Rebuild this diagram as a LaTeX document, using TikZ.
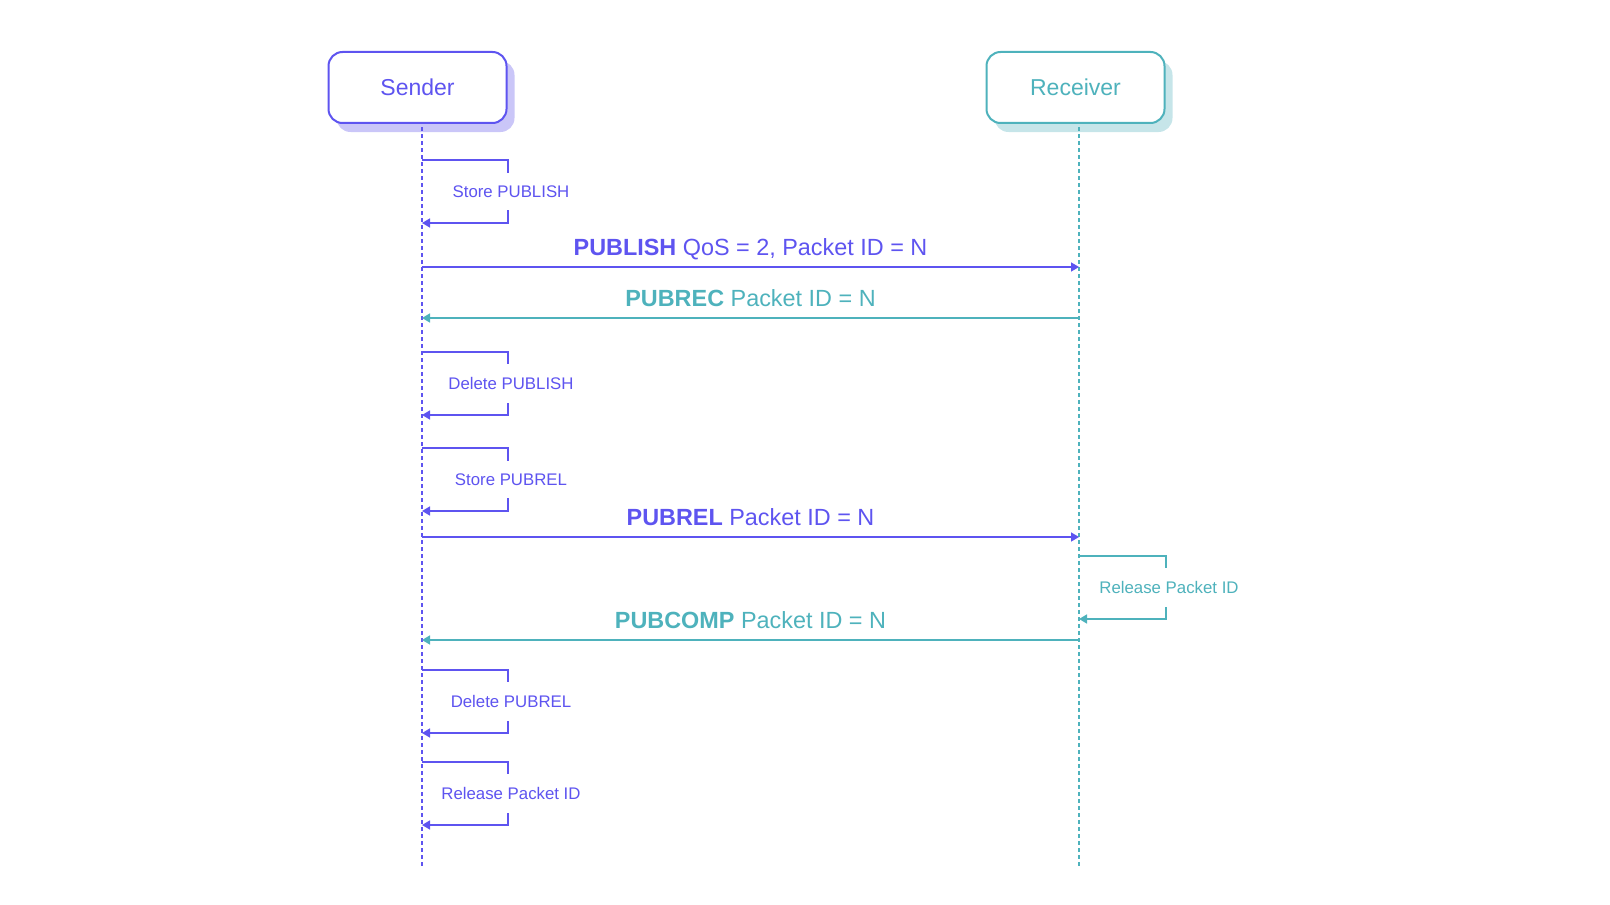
\documentclass[tikz,border=0pt]{standalone}
\usepackage{fontspec}
\setmainfont{Liberation Sans}
\usetikzlibrary{arrows.meta,positioning,shadows}

\definecolor{sendcol}{RGB}{94,84,240}
\definecolor{recvcol}{RGB}{78,178,188}
\definecolor{sendcolshade}{RGB}{202,198,248}
\definecolor{recvcolshade}{RGB}{198,229,233}

\begin{document}
\begin{tikzpicture}[x=0.5pt,y=-0.5pt]

\tikzset{actor/.style={draw=#1, text=#1, fill=white, line width=1pt, rounded corners=7pt,
   minimum width=89pt, minimum height=35.5pt, inner sep=0pt, font=\fontsize{11.5}{14}\selectfont,
   general shadow={fill=#1shade, shadow xshift=4pt, shadow yshift=-4.5pt}},
lifeline/.style={draw=#1, line width=0.85pt, dash pattern=on 2pt off 1.5pt},
msg/.style={draw=#1, line width=0.8pt, -{Triangle[length=4pt,width=4.5pt]}},
msglabel/.style={text=#1, anchor=base, yshift=5.6pt, inner sep=0pt, font=\fontsize{11.7}{14}\selectfont},
selfloop/.style={draw=#1, line width=0.8pt, -{Triangle[length=4pt,width=4.5pt]}},
looplabel/.style={text=#1, fill=white, xshift=1.5pt, inner xsep=4pt, inner ysep=6.5pt, font=\fontsize{8.4}{10}\selectfont}}

\useasboundingbox (0,0) rectangle (1610,904);

%the two parties
\node[actor=sendcol] (sender) at (417.5,87.5) {Sender};
\node[actor=recvcol] (receiver) at (1075.5,87.5) {Receiver};

\coordinate (sTop) at (422,127);
\coordinate (sBot) at (422,869);
\coordinate (rTop) at (1079,127);
\coordinate (rBot) at (1079,869);

\draw[lifeline=sendcol] (sTop) -- (sBot);
\draw[lifeline=recvcol] (rTop) -- (rBot);

%message points on both lifelines
\foreach \i/\y in {1/267, 2/318, 3/537, 4/640}
{
  \coordinate (s\i) at (422,\y);
  \coordinate (r\i) at (1079,\y);
}

\draw[msg=sendcol] (s1) -- node[msglabel=sendcol] (publish) {\textbf{PUBLISH} QoS = 2, Packet ID = N} (r1);
\draw[msg=recvcol] (r2) -- node[msglabel=recvcol] (pubrec) {\textbf{PUBREC} Packet ID = N} (s2);
\draw[msg=sendcol] (s3) -- node[msglabel=sendcol] (pubrel) {\textbf{PUBREL} Packet ID = N} (r3);
\draw[msg=recvcol] (r4) -- node[msglabel=recvcol] (pubcomp) {\textbf{PUBCOMP} Packet ID = N} (s4);

%sender side bookkeeping
\foreach \y/\txt in {160/Store PUBLISH, 352/Delete PUBLISH, 448/Store PUBREL, 670/Delete PUBREL, 762/Release Packet ID}
  \draw[selfloop=sendcol] (422,\y) -- (508,\y) -- node[looplabel=sendcol] (step\y) {\txt} (508,\y+63) -- (422,\y+63);

%receiver side
\draw[selfloop=recvcol] (1079,556) -- (1166,556) -- node[looplabel=recvcol] (release) {Release Packet ID} (1166,619) -- (1079,619);

\end{tikzpicture}
\end{document}
